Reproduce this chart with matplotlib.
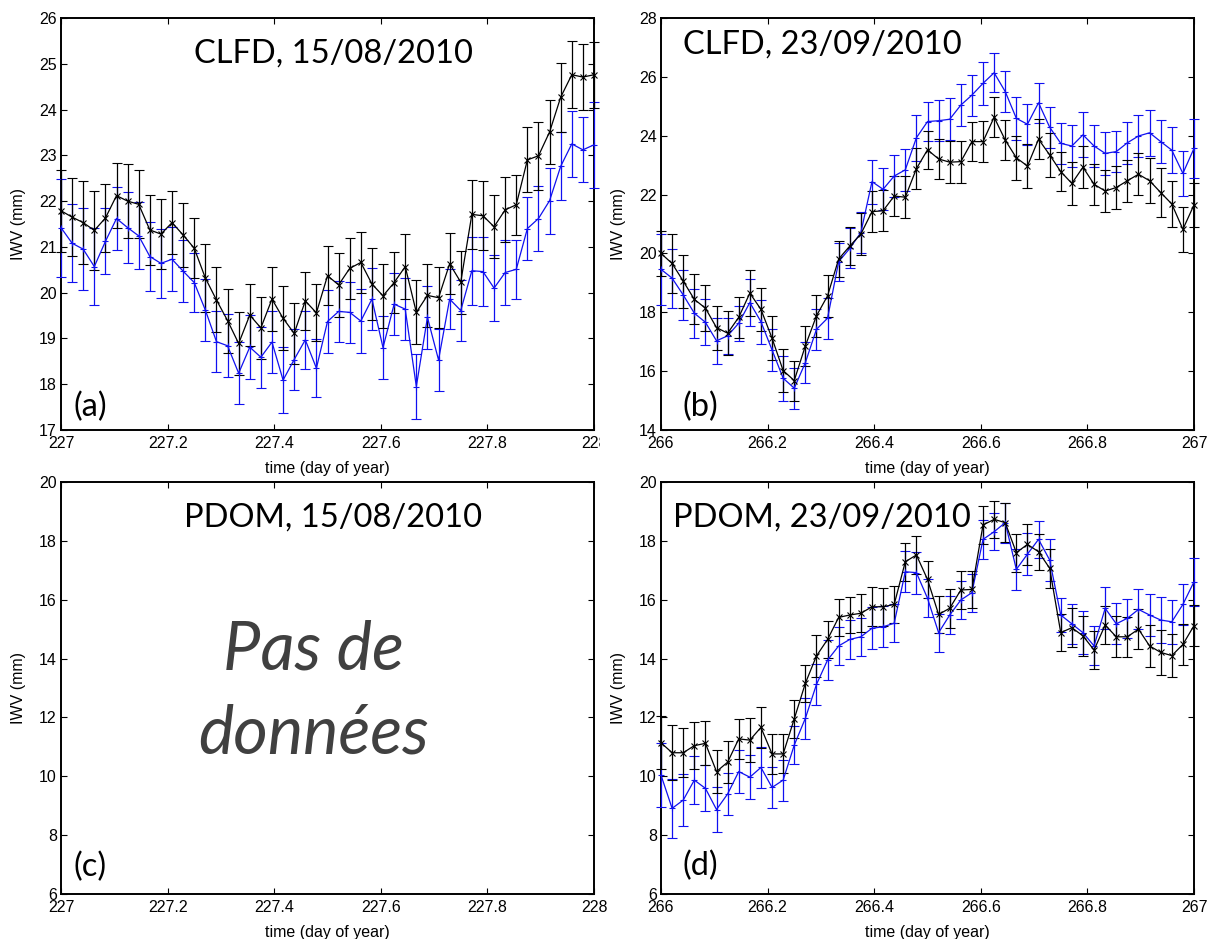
"""IWV time series at CLFD and PDOM for two days, four panels with error bars."""

import matplotlib
matplotlib.use("Agg")
import matplotlib.pyplot as plt
import numpy as np
from matplotlib.transforms import Bbox, TransformedBbox


# ---------------------------------------------------------------------------
# Data (30-min samples over one day)
# ---------------------------------------------------------------------------
SAMPLES_PER_DAY = 48

A_START = 227
A_BLACK = [21.79, 21.65, 21.53, 21.36, 21.63, 22.12, 22.00, 21.93, 21.37, 21.28,
           21.53, 21.26, 20.97, 20.32, 19.84, 19.39, 18.89, 19.51, 19.23, 19.86,
           19.44, 19.11, 19.82, 19.56, 20.37, 20.17, 20.53, 20.66, 20.19, 19.93,
           20.22, 20.57, 19.57, 19.94, 19.89, 20.63, 20.23, 21.71, 21.68, 21.44,
           21.81, 21.92, 22.90, 22.99, 23.51, 24.27, 24.76, 24.71, 24.76]
A_BLACK_ERR = [0.90, 0.85, 0.91, 0.87, 0.74, 0.71, 0.80, 0.74, 0.77, 0.76,
               0.69, 0.69, 0.66, 0.75, 0.71, 0.70, 0.68, 0.67, 0.68, 0.69,
               0.70, 0.67, 0.63, 0.62, 0.65, 0.70, 0.66, 0.66, 0.78, 0.70,
               0.67, 0.71, 0.70, 0.69, 0.67, 0.67, 0.69, 0.75, 0.75, 0.69,
               0.71, 0.66, 0.71, 0.74, 0.70, 0.75, 0.73, 0.72, 0.72]
A_BLUE = [21.42, 21.08, 20.95, 20.57, 21.12, 21.62, 21.42, 21.24, 20.79, 20.64,
          20.73, 20.47, 20.22, 19.62, 18.93, 18.84, 18.24, 18.81, 18.59, 18.92,
          18.09, 18.54, 18.97, 18.35, 19.37, 19.59, 19.57, 19.38, 19.86, 18.80,
          19.75, 19.64, 17.95, 19.46, 18.53, 19.86, 19.61, 20.48, 20.46, 20.10,
          20.44, 20.51, 21.40, 21.62, 22.01, 22.76, 23.25, 23.12, 23.23]
A_BLUE_ERR = [1.07, 0.85, 0.89, 0.85, 0.72, 0.69, 0.78, 0.73, 0.76, 0.75,
              0.70, 0.67, 0.65, 0.67, 0.67, 0.69, 0.68, 0.70, 0.67, 0.67,
              0.72, 0.67, 0.64, 0.63, 0.69, 0.67, 0.67, 0.69, 0.68, 0.69,
              0.67, 0.68, 0.71, 0.68, 0.68, 0.66, 0.67, 0.74, 0.76, 0.72,
              0.72, 0.65, 0.69, 0.72, 0.72, 0.74, 0.72, 0.71, 0.94]

B_START = 266
B_BLACK = [20.00, 19.66, 19.06, 18.44, 18.14, 17.48, 17.29, 17.83, 18.65, 18.10,
           17.12, 16.02, 15.68, 16.86, 17.88, 18.56, 19.81, 20.25, 20.66, 21.42,
           21.45, 21.95, 21.91, 22.88, 23.52, 23.21, 23.10, 23.12, 23.80, 23.80,
           24.63, 23.85, 23.25, 22.97, 23.88, 23.35, 22.78, 22.38, 22.93, 22.35,
           22.12, 22.24, 22.47, 22.69, 22.47, 22.07, 21.68, 20.82, 21.65]
B_BLACK_ERR = [0.75, 1.00, 0.90, 0.85, 0.79, 0.75, 0.74, 0.70, 0.77, 0.72,
               0.74, 0.74, 0.68, 0.68, 0.71, 0.71, 0.61, 0.65, 0.72, 0.70,
               0.70, 0.67, 0.72, 0.70, 0.65, 0.67, 0.71, 0.71, 0.65, 0.70,
               0.69, 0.68, 0.75, 0.74, 0.68, 0.74, 0.66, 0.72, 0.72, 0.70,
               0.72, 0.72, 0.71, 0.71, 0.76, 0.83, 0.78, 0.76, 0.74]
B_BLUE = [19.46, 19.16, 18.59, 17.97, 17.66, 17.03, 17.20, 17.63, 18.33, 17.68,
          16.72, 15.76, 15.42, 16.29, 17.42, 17.80, 19.72, 20.17, 20.71, 22.44,
          22.18, 22.63, 22.84, 23.93, 24.48, 24.51, 24.56, 25.04, 25.38, 25.78,
          26.14, 25.50, 24.59, 24.39, 25.12, 24.29, 23.74, 23.65, 24.03, 23.65,
          23.40, 23.46, 23.76, 23.99, 24.10, 23.80, 23.51, 22.72, 23.57]
B_BLUE_ERR = [1.20, 1.00, 0.85, 0.83, 0.78, 0.78, 0.62, 0.60, 0.80, 0.75,
              0.72, 0.76, 0.69, 0.70, 0.70, 0.70, 0.65, 0.68, 0.70, 0.75,
              0.72, 0.70, 0.72, 0.78, 0.66, 0.70, 0.72, 0.72, 0.70, 0.72,
              0.67, 0.70, 0.72, 0.70, 0.68, 0.70, 0.70, 0.72, 0.76, 0.70,
              0.74, 0.70, 0.72, 0.71, 0.79, 0.72, 0.78, 0.76, 1.00]

D_START = 266
D_BLACK = [11.14, 10.80, 10.80, 11.04, 11.12, 10.16, 10.48, 11.27, 11.23, 11.66,
           10.76, 10.76, 11.95, 13.16, 14.09, 14.65, 15.40, 15.48, 15.54, 15.76,
           15.76, 15.84, 17.29, 17.52, 16.69, 15.50, 15.71, 16.33, 16.35, 18.54,
           18.73, 18.62, 17.60, 17.88, 17.63, 17.07, 14.88, 15.05, 14.77, 14.29,
           15.14, 14.74, 14.74, 15.00, 14.43, 14.21, 14.10, 14.48, 15.12]
D_BLACK_ERR = [0.90, 0.93, 0.83, 0.79, 0.75, 0.73, 0.71, 0.69, 0.74, 0.69,
               0.67, 0.66, 0.65, 0.63, 0.71, 0.63, 0.62, 0.62, 0.64, 0.66,
               0.65, 0.62, 0.65, 0.66, 0.62, 0.64, 0.66, 0.63, 0.62, 0.63,
               0.62, 0.65, 0.65, 0.69, 0.61, 0.66, 0.62, 0.67, 0.68, 0.63,
               0.65, 0.70, 0.68, 0.67, 0.71, 0.76, 0.74, 0.69, 0.70]
D_BLUE = [10.04, 8.91, 9.19, 9.87, 9.59, 8.87, 9.40, 10.16, 9.97, 10.30,
          9.62, 9.87, 11.06, 11.97, 13.12, 13.95, 14.43, 14.65, 14.74, 15.03,
          15.08, 15.20, 16.95, 16.92, 16.05, 14.88, 15.48, 15.99, 16.24, 18.05,
          18.31, 18.62, 17.03, 17.55, 18.05, 17.35, 15.48, 15.18, 14.88, 14.43,
          15.71, 15.18, 15.37, 15.67, 15.48, 15.31, 15.25, 15.84, 16.61]
D_BLUE_ERR = [1.10, 1.00, 0.88, 0.82, 0.78, 0.75, 0.72, 0.72, 0.75, 0.69,
              0.69, 0.70, 0.65, 0.70, 0.69, 0.69, 0.64, 0.67, 0.65, 0.71,
              0.69, 0.65, 0.69, 0.71, 0.64, 0.64, 0.66, 0.66, 0.65, 0.65,
              0.62, 0.68, 0.71, 0.71, 0.64, 0.72, 0.58, 0.68, 0.72, 0.66,
              0.71, 0.70, 0.66, 0.68, 0.70, 0.79, 0.75, 0.71, 0.82]

A_YTICKS = [17, 18, 19, 20, 21, 22, 23, 24, 25, 26]
B_YTICKS = [14, 16, 18, 20, 22, 24, 26, 28]
CD_YTICKS = [6, 8, 10, 12, 14, 16, 18, 20]
X_OFFSETS = [0, 0.2, 0.4, 0.6, 0.8, 1.0]

# ---------------------------------------------------------------------------
# Style
# ---------------------------------------------------------------------------
BLUE = "#1010F0"
BLACK = "#000000"
GREY_TEXT = "#404040"
TICK_FONT = "Liberation Sans"
TEXT_FONT = "Lato"
FIG_W, FIG_H = 1215, 939


def pixel_axes(figure, left, top, right, bottom):
    """Create axes from pixel edges of the 1215x939 canvas."""
    return figure.add_axes([left / FIG_W, 1 - bottom / FIG_H,
                            (right - left) / FIG_W, (bottom - top) / FIG_H])


def style_axis(axis, start, yticks):
    xticks = [start + offset for offset in X_OFFSETS]
    labels = [f"{value:g}" for value in xticks]
    axis.set_xlim(start, start + 1)
    axis.set_ylim(yticks[0], yticks[-1])
    axis.set_xticks(xticks)
    axis.set_xticklabels(labels)
    axis.set_yticks(yticks)
    axis.set_yticklabels([str(v) for v in yticks])
    axis.tick_params(direction="in", length=4.5, width=0.8, top=True, right=True,
                     labelsize=11.5, colors=BLACK)
    axis.tick_params(axis="x", pad=4)
    axis.tick_params(axis="y", pad=3)
    for label in axis.get_xticklabels() + axis.get_yticklabels():
        label.set_family(TICK_FONT)
    for spine in axis.spines.values():
        spine.set_linewidth(1.4)
    axis.set_xlabel("time (day of year)", fontsize=11.5, family=TICK_FONT)
    axis.set_ylabel("IWV (mm)", fontsize=11.5, family=TICK_FONT)
    axis.xaxis.set_label_coords(0.5, -0.075)
    axis.yaxis.set_label_coords(-0.066, 0.5)


def draw_series(axis, start, values, errors, color, marker):
    times = start + np.arange(len(values)) / SAMPLES_PER_DAY
    axis.errorbar(times, values, yerr=errors, color=color, linewidth=0.9,
                  elinewidth=0.9, capsize=3.6, capthick=0.9, marker=marker,
                  markersize=5, markeredgewidth=0.8, clip_on=False, zorder=3)


def main():
    figure = plt.figure(figsize=(FIG_W / 100, FIG_H / 100), dpi=100)

    axis_a = pixel_axes(figure, 61, 18, 594, 430)
    axis_b = pixel_axes(figure, 661, 18, 1194, 430)
    axis_c = pixel_axes(figure, 61, 482, 594, 894)
    axis_d = pixel_axes(figure, 661, 482, 1194, 894)

    style_axis(axis_a, A_START, A_YTICKS)
    style_axis(axis_b, B_START, B_YTICKS)
    style_axis(axis_c, A_START, CD_YTICKS)
    style_axis(axis_d, D_START, CD_YTICKS)

    draw_series(axis_a, A_START, A_BLUE, A_BLUE_ERR, BLUE, "+")
    draw_series(axis_a, A_START, A_BLACK, A_BLACK_ERR, BLACK, "x")
    draw_series(axis_b, B_START, B_BLUE, B_BLUE_ERR, BLUE, "+")
    draw_series(axis_b, B_START, B_BLACK, B_BLACK_ERR, BLACK, "x")
    draw_series(axis_d, D_START, D_BLUE, D_BLUE_ERR, BLUE, "+")
    draw_series(axis_d, D_START, D_BLACK, D_BLACK_ERR, BLACK, "x")

    title_style = dict(fontsize=23.5, family=TEXT_FONT, va="baseline", zorder=5)
    axis_a.text(0.511, 0.893, "CLFD, 15/08/2010", ha="center",
                transform=axis_a.transAxes, **title_style)
    axis_b.text(0.041, 0.913, "CLFD, 23/09/2010", ha="left",
                transform=axis_b.transAxes, **title_style)
    axis_c.text(0.511, 0.893, "PDOM, 15/08/2010", ha="center",
                transform=axis_c.transAxes, **title_style)
    axis_d.text(0.0225, 0.893, "PDOM, 23/09/2010", ha="left",
                transform=axis_d.transAxes, **title_style)

    letter_style = dict(fontsize=23.5, family=TEXT_FONT, va="center", ha="left")
    axis_a.text(0.024, 0.056, "(a)", transform=axis_a.transAxes, **letter_style)
    axis_b.text(0.041, 0.056, "(b)", transform=axis_b.transAxes, **letter_style)
    axis_c.text(0.024, 0.066, "(c)", transform=axis_c.transAxes, **letter_style)
    axis_d.text(0.041, 0.068, "(d)", transform=axis_d.transAxes, **letter_style)

    # Empty panel message
    message_style = dict(fontsize=48, family=TEXT_FONT, style="italic",
                         color=GREY_TEXT, ha="center", va="baseline",
                         transform=axis_c.transAxes)
    axis_c.text(0.474, 0.544, "Pas de", **message_style)
    axis_c.text(0.474, 0.342, "donn\u00e9es", **message_style)

    # The last x label of panel (a) is cut off by the neighbouring panel
    clip = TransformedBbox(Bbox([[0, 0], [600 / FIG_W, 1]]), figure.transFigure)
    last_label = axis_a.get_xticklabels()[-1]
    last_label.set_clip_box(clip)
    last_label.set_clip_on(True)

    figure.savefig("out.png", dpi=100, facecolor="white")
    plt.close(figure)


if __name__ == "__main__":
    main()
